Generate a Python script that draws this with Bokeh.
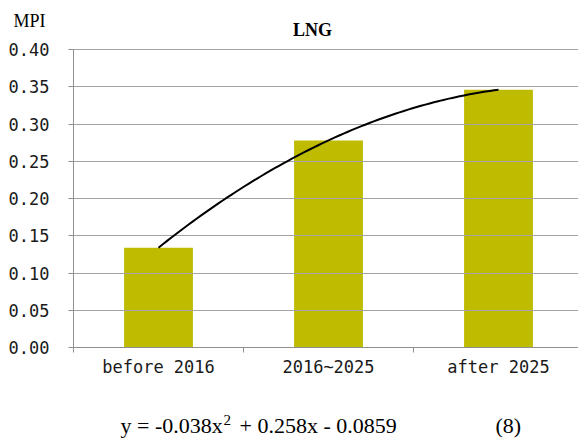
from bokeh.plotting import figure
from bokeh.models import FixedTicker, Label, PrintfTickFormatter, ColumnDataSource, Grid
from bokeh.embed import file_html
from bokeh.resources import INLINE
import numpy as np

categories = ["before 2016", "2016~2025", "after 2025"]
mpi_values = [0.134, 0.278, 0.346]
y_ticks = [0.0, 0.05, 0.10, 0.15, 0.20, 0.25, 0.30, 0.35, 0.40]
chart_title = "LNG"
y_title = "MPI"
equation_parts = ["y = -0.038x", "2", "+ 0.258x - 0.0859"]
equation_no = "(8)"

xs = list(range(1, len(categories) + 1))

W, H = 578, 442
AX_X, AX_Y = 73, 347      # pixel position of the axes origin
PX_X, PX_Y = 170.0, 745.0  # pixels per data unit
x_start = 0.5 - AX_X / PX_X
x_end = 0.5 + (W - AX_X) / PX_X
y_end = AX_Y / PX_Y
y_start = -(H - AX_Y) / PX_Y

p = figure(width=W, height=H, x_range=(x_start, x_end), y_range=(y_start, y_end),
           output_backend="svg", toolbar_location=None,
           min_border_left=0, min_border_top=0, min_border_bottom=0,
           min_border_right=0)
p.outline_line_color = None
p.background_fill_color = "white"
p.border_fill_color = "white"

src = ColumnDataSource(dict(x=xs, top=mpi_values))
p.vbar(x="x", top="top", width=0.405, bottom=0, source=src,
       fill_color="#BEBB00", line_color=None, level="underlay")

coef = np.polyfit(xs, mpi_values, 2)
tx = np.linspace(xs[0], xs[-1], 80)
p.line(tx, np.polyval(coef, tx), line_color="black", line_width=2)

x_bounds = (0.5, 0.5 + len(categories))
y_bounds = (y_ticks[0], y_ticks[-1])

GRID = "#a3a3a3"
AXIS = "#8f8f8f"
p.xgrid.visible = False
p.ygrid.ticker = FixedTicker(ticks=y_ticks)
p.ygrid.grid_line_color = GRID
p.ygrid.bounds = y_bounds
if "cross_bounds" in Grid.properties():
    p.ygrid.cross_bounds = x_bounds
else:
    p.ygrid.visible = False
    p.segment(x0=[x_bounds[0]] * len(y_ticks), x1=[x_bounds[1]] * len(y_ticks),
              y0=y_ticks, y1=y_ticks, line_color=GRID, line_width=1,
              level="underlay")

p.yaxis.fixed_location = x_bounds[0]
p.yaxis.bounds = y_bounds
p.yaxis.ticker = FixedTicker(ticks=y_ticks)
p.yaxis.formatter = PrintfTickFormatter(format="%.2f")
p.yaxis.major_tick_out = 5
p.yaxis.major_tick_in = 0
p.yaxis.minor_tick_line_color = None
p.yaxis.axis_line_color = AXIS
p.yaxis.major_tick_line_color = AXIS
p.yaxis.major_label_text_font = "DejaVu Sans Mono"
p.yaxis.major_label_text_font_size = "17px"
p.yaxis.major_label_text_color = "#1a1a1a"
p.yaxis.major_label_standoff = 19

p.xaxis.fixed_location = 0
p.xaxis.bounds = x_bounds
p.xaxis.ticker = FixedTicker(ticks=xs, minor_ticks=[0.5, 1.5, 2.5, 3.5])
p.xaxis.major_label_overrides = {x: c for x, c in zip(xs, categories)}
p.xaxis.major_tick_out = 0
p.xaxis.major_tick_in = 0
p.xaxis.minor_tick_out = 5
p.xaxis.minor_tick_in = 0
p.xaxis.minor_tick_line_color = AXIS
p.xaxis.axis_line_color = AXIS
p.xaxis.major_label_text_font = "DejaVu Sans Mono"
p.xaxis.major_label_text_font_size = "17px"
p.xaxis.major_label_text_color = "#1a1a1a"
p.xaxis.major_label_standoff = 4

def lab(x, y, text, size, align="left", bold=False):
    p.add_layout(Label(x=x, y=H - y, x_units="screen", y_units="screen",
                       text=text, text_font="Liberation Serif", text_font_size=size,
                       text_font_style="bold" if bold else "normal",
                       text_baseline="middle", text_align=align, text_color="black"))

lab(13, 20, y_title, "18px")
lab(312, 29, chart_title, "18px", align="center", bold=True)
lab(120, 425, equation_parts[0], "22px")
lab(223, 419, equation_parts[1], "15px")
lab(239, 425, equation_parts[2], "22px")
lab(495, 425, equation_no, "22px")

open("out.html", "w").write(file_html(p, INLINE))
